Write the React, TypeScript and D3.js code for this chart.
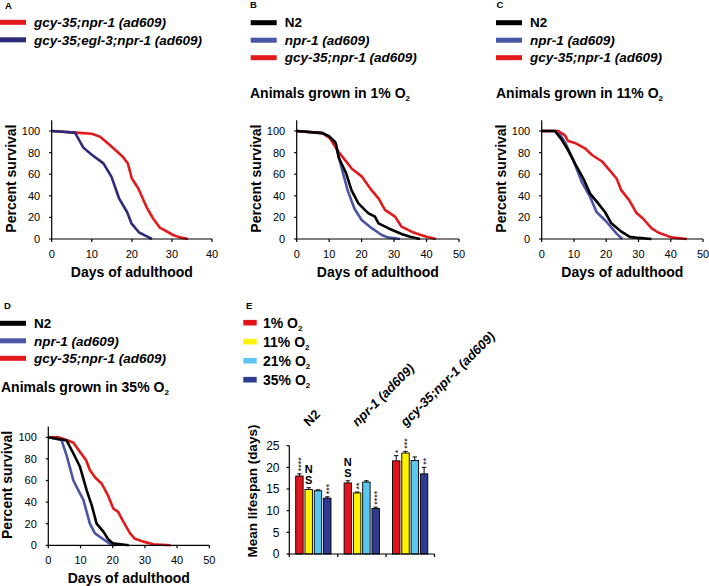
import React from "react";
import * as d3 from "d3";

const FONT = "'Liberation Sans', Arial, Helvetica, sans-serif";
const RED = "#e31a1c";
const NAVY = "#2d2a7a";
const BLUE = "#4b55a5";
const BLACK = "#000000";

// ---------- Survival data [day, percent surviving] ----------
const aGcy35: number[][] = [[0,100],[6,98.5],[10,97.5],[12,94.8],[14.5,87],[17.8,76],[19,70],[20,56],[21.6,47],[23.6,30],[25.3,19],[27,10.5],[30.3,3.7],[32,1.5],[34,0]];
const aEgl3: number[][] = [[0,100],[5.8,98.5],[7.9,84.6],[10,78],[12.9,70],[14.9,57.7],[16.8,37.7],[18.8,25],[19.9,14.5],[21.8,6],[24,2],[25,0]];

const bN2: number[][] = [[0,100],[8,98],[10,95],[12,89],[13,75],[15.2,61],[16.9,45],[19,33],[22,24],[24.1,20.7],[25.2,14.5],[28.2,10],[32.3,4.6],[35,2],[38,0]];
const bNpr1: number[][] = [[0,100],[8,98],[10,95],[11.8,90],[12.8,78],[13.9,65],[15.7,45],[17.8,28],[20,17.6],[23.1,10],[26.2,3.7],[28,1.5],[31.8,0]];
const bGcy35: number[][] = [[0,100],[8,98],[10.3,93],[12.8,81],[14.9,73],[17,65],[20,58],[23.1,45],[25.2,37.6],[27.2,27],[30.3,20.7],[32.3,11.4],[35.4,6.8],[38,4],[40,2],[42.9,0]];

const cN2: number[][] = [[0,100],[4.1,100],[6.2,92],[8.2,82],[10.3,70],[12.9,56],[15,42],[17.5,33],[19.6,25],[21.6,14.5],[24.7,6.8],[27.3,2],[30,1],[34,0]];
const cNpr1: number[][] = [[0,100],[5,100],[7.5,88],[9.8,73],[12.4,53],[15,39],[17,25],[20.1,16],[23.2,5],[25,0]];
const cGcy35: number[][] = [[0,100],[5.2,100],[7.2,96],[8.2,90.7],[10.3,89],[13.4,84],[15.5,78],[18.6,72],[20.1,67],[23.2,56],[24.7,45],[27.1,36],[29.4,24],[31.4,19],[34,10],[36.1,6],[40.2,1.5],[45,0]];

const dN2: number[][] = [[0,100],[4,98],[5.7,97],[7.8,85],[9.8,73],[11.9,51],[13.5,37],[15,20],[17.1,12.7],[18.6,5.6],[20,1.9],[25,0]];
const dNpr1: number[][] = [[0,100],[4.1,97.5],[5.7,83],[7.8,60],[8.8,54],[10.9,42],[12.9,20],[14.5,11],[17.1,5.6],[19.2,1.2],[21,0]];
const dGcy35: number[][] = [[0,100],[3,100],[5.7,97.5],[7.8,95],[9.8,86.7],[11.7,79],[12.9,69.8],[14.5,63],[16.6,57],[18.6,45.7],[20.2,34],[21.7,31],[23.3,22],[25.4,11],[26.9,6],[29.5,3.4],[32.6,1],[38,0]];

const survivalYTicks = [0, 20, 40, 60, 80, 100];

// ---------- Panel E data ----------
const genotypes = ["N2", "npr-1 (ad609)", "gcy-35;npr-1 (ad609)"];
const oxygenLevels = ["1%", "11%", "21%", "35%"];
const oxygenColors = ["#e3151c", "#fff200", "#5bc6ef", "#2e3990"];
const meanN2 = [18.0, 14.9, 14.6, 12.9];
const meanNpr1 = [16.4, 14.1, 16.6, 10.5];
const meanGcy35 = [21.5, 23.3, 21.6, 18.5];
const errN2 = [0.5, 0.4, 0.2, 0.3];
const errNpr1 = [0.5, 0.2, 0.3, 0.3];
const errGcy35 = [1.2, 0.4, 0.8, 1.5];
const sigN2 = ["****", "NS", "", "***"];
const sigNpr1 = ["NS", "**", "", "****"];
const sigGcy35 = ["*", "***", "", "**"];
const lifespanTicks = [0, 5, 10, 15, 20, 25];

type Series = { data: number[][]; color: string };

function PanelLetter({ x, y, t }: { x: number; y: number; t: string }) {
  return <text x={x} y={y} fontFamily={FONT} fontWeight="bold" fontSize={9.5}>{t}</text>;
}

function Legend({ x, y, items }: { x: number; y: number; items: { label: string; color: string; italic: boolean }[] }) {
  return (
    <g>
      {items.map((it, i) => (
        <g key={i}>
          <rect x={x} y={y + i * 17.5 - 2.5} width={26} height={5} fill={it.color} />
          <text x={x + 34} y={y + i * 17.5 + 4.7} fontFamily={FONT} fontWeight="bold" fontStyle={it.italic ? "italic" : "normal"} fontSize={13.5}>{it.label}</text>
        </g>
      ))}
    </g>
  );
}

function Title({ x, y, pct }: { x: number; y: number; pct: string }) {
  return (
    <text x={x} y={y} fontFamily={FONT} fontWeight="bold" fontSize={14}>
      {`Animals grown in ${pct} O`}
      <tspan fontSize={8} dy={3}>2</tspan>
    </text>
  );
}

function Survival({ left, right, bottom, top100, xMax, series }: { left: number; right: number; bottom: number; top100: number; xMax: number; series: Series[] }) {
  const x = d3.scaleLinear().domain([0, xMax]).range([left, right]);
  const y = d3.scaleLinear().domain([0, 100]).range([bottom, top100]);
  const line = d3.line<number[]>().x((d) => x(d[0])).y((d) => y(d[1]));
  const xTicks = d3.range(0, xMax + 1, 10);
  const axisTop = y(110);
  return (
    <g fontFamily={FONT}>
      {series.map((s, i) => (
        <path key={i} d={line(s.data) || ""} fill="none" stroke={s.color} strokeWidth={2.6} strokeLinejoin="round" />
      ))}
      <line x1={x(0)} x2={x(0)} y1={axisTop} y2={y(0)} stroke="#000" strokeWidth={1.2} />
      <line x1={x(0)} x2={x(xMax)} y1={y(0)} y2={y(0)} stroke="#000" strokeWidth={1.2} />
      {survivalYTicks.map((t) => (
        <g key={"y" + t}>
          <line x1={x(0) - 2.5} x2={x(0)} y1={y(t)} y2={y(t)} stroke="#000" strokeWidth={1.2} />
          <text x={x(0) - 11.5} y={y(t)} dy="0.36em" textAnchor="end" fontSize={11}>{t}</text>
        </g>
      ))}
      {xTicks.map((t) => (
        <g key={"x" + t}>
          <line x1={x(t)} x2={x(t)} y1={y(0)} y2={y(0) + 3} stroke="#000" strokeWidth={1.2} />
          <text x={x(t)} y={y(0) + 18.5} textAnchor="middle" fontSize={11}>{t}</text>
        </g>
      ))}
      <text x={(left + right) / 2} y={bottom + 38} textAnchor="middle" fontWeight="bold" fontSize={14}>Days of adulthood</text>
      <text transform={`translate(${left - 36},${(axisTop + bottom) / 2 - 1}) rotate(-90)`} textAnchor="middle" fontWeight="bold" fontSize={14}>Percent survival</text>
    </g>
  );
}

function Lifespan() {
  const means = [meanN2, meanNpr1, meanGcy35];
  const errs = [errN2, errNpr1, errGcy35];
  const sigs = [sigN2, sigNpr1, sigGcy35];
  const gx = d3.scaleBand<number>().domain([0, 1, 2]).range([289.3, 434.5]).paddingInner(0);
  const ix = d3.scaleBand<number>().domain([0, 1, 2, 3]).range([6.4, 41.7]).paddingInner(0.2);
  const y = d3.scaleLinear().domain([0, 25]).range([554, 445.7]);
  const bw = ix.bandwidth();
  const xEnd = 289.3 + gx.bandwidth() * 3;
  return (
    <g fontFamily={FONT}>
      {means.map((vals, g) =>
        vals.map((v, s) => {
          const bx = (gx(g) as number) + (ix(s) as number);
          const cx = bx + bw / 2;
          const top = y(v + errs[g][s]);
          const sig = sigs[g][s];
          return (
            <g key={g + "-" + s}>
              <rect x={bx} y={y(v)} width={bw} height={y(0) - y(v)} fill={oxygenColors[s]} stroke="#000" strokeWidth={0.9} />
              <line x1={cx} x2={cx} y1={y(v)} y2={top} stroke="#000" strokeWidth={1} />
              <line x1={cx - 2.2} x2={cx + 2.2} y1={top} y2={top} stroke="#000" strokeWidth={1} />
              {sig === "NS" ? (
                <g fontWeight="bold" fontSize={11} textAnchor="middle">
                  <text x={cx} y={top - 15}>N</text>
                  <text x={cx} y={top - 3.5}>S</text>
                </g>
              ) : sig ? (
                <text transform={`translate(${cx + 4.8},${top - 2.5}) rotate(-90)`} fontSize={9} textAnchor="start">{sig}</text>
              ) : null}
            </g>
          );
        })
      )}
      <line x1={289.3} x2={289.3} y1={y(25)} y2={y(0) + 3} stroke="#000" strokeWidth={1.2} />
      <line x1={289.3} x2={xEnd} y1={y(0)} y2={y(0)} stroke="#000" strokeWidth={1.2} />
      {[1, 2, 3].map((i) => (
        <line key={i} x1={289.3 + gx.bandwidth() * i} x2={289.3 + gx.bandwidth() * i} y1={y(0)} y2={y(0) + 3} stroke="#000" strokeWidth={1.2} />
      ))}
      {lifespanTicks.map((t) => (
        <g key={t}>
          <line x1={286.6} x2={289.3} y1={y(t)} y2={y(t)} stroke="#000" strokeWidth={1.2} />
          <text x={279.5} y={y(t)} dy="0.36em" textAnchor="end" fontSize={12}>{t}</text>
        </g>
      ))}
      <text transform={`translate(256.5,491) rotate(-90)`} textAnchor="middle" fontWeight="bold" fontSize={13.5}>Mean lifespan (days)</text>
      {genotypes.map((gname, g) => (
        <text key={gname} transform={`translate(${(gx(g) as number) + gx.bandwidth() / 2 - 4.5},427) rotate(-45)`} fontWeight="bold" fontStyle={g === 0 ? "normal" : "italic"} fontSize={13}>{gname}</text>
      ))}
      {oxygenLevels.map((o, i) => (
        <g key={o}>
          <rect x={243.3} y={322.7 + i * 19 - 2.8} width={13.4} height={5.6} fill={oxygenColors[i]} />
          <text x={263} y={322.7 + i * 19 + 5} fontWeight="bold" fontSize={14}>
            {`${o} O`}
            <tspan fontSize={8} dy={3}>2</tspan>
          </text>
        </g>
      ))}
    </g>
  );
}

export default function App() {
  const legend3 = [
    { label: "N2", color: BLACK, italic: false },
    { label: "npr-1 (ad609)", color: BLUE, italic: true },
    { label: "gcy-35;npr-1 (ad609)", color: RED, italic: true },
  ];
  return (
    <svg width={709} height={586} style={{ position: "absolute", left: 0, top: 0, background: "#fff" }}>
      <rect width={709} height={586} fill="#fff" />
      {/* Panel A */}
      <PanelLetter x={5} y={8.5} t="A" />
      <Legend x={0} y={22.3} items={[
        { label: "gcy-35;npr-1 (ad609)", color: RED, italic: true },
        { label: "gcy-35;egl-3;npr-1 (ad609)", color: NAVY, italic: true },
      ]} />
      <Survival left={51.7} right={212} bottom={239} top100={131} xMax={40}
        series={[{ data: aGcy35, color: RED }, { data: aEgl3, color: NAVY }]} />

      {/* Panel B */}
      <PanelLetter x={250} y={7.5} t="B" />
      <Legend x={250.7} y={22.7} items={legend3} />
      <Title x={250} y={98} pct="1%" />
      <Survival left={296.7} right={459} bottom={239} top100={131} xMax={50}
        series={[{ data: bNpr1, color: BLUE }, { data: bGcy35, color: RED }, { data: bN2, color: BLACK }]} />

      {/* Panel C */}
      <PanelLetter x={496.5} y={7.5} t="C" />
      <Legend x={496} y={22.7} items={legend3} />
      <Title x={496} y={98} pct="11%" />
      <Survival left={541.7} right={703} bottom={239} top100={131} xMax={50}
        series={[{ data: cNpr1, color: BLUE }, { data: cGcy35, color: RED }, { data: cN2, color: BLACK }]} />

      {/* Panel D */}
      <PanelLetter x={4} y={309} t="D" />
      <Legend x={0} y={323.3} items={legend3} />
      <Title x={1} y={392} pct="35%" />
      <Survival left={48.3} right={209.3} bottom={545.3} top100={437.3} xMax={50}
        series={[{ data: dNpr1, color: BLUE }, { data: dGcy35, color: RED }, { data: dN2, color: BLACK }]} />

      {/* Panel E */}
      <PanelLetter x={246} y={309} t="E" />
      <Lifespan />
    </svg>
  );
}
